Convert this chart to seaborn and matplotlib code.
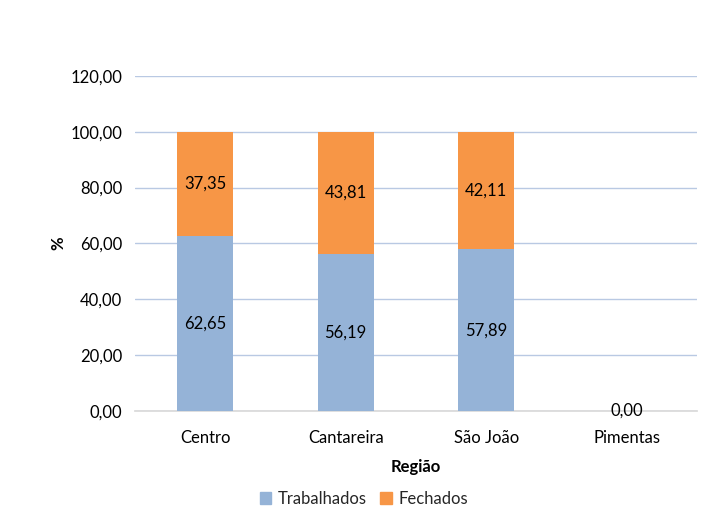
import matplotlib
matplotlib.use('Agg')
import matplotlib.pyplot as plt
import seaborn as sns
import pandas as pd
from matplotlib.patches import Patch

regioes = ['Centro', 'Cantareira', 'São João', 'Pimentas']
trabalhados = [62.65, 56.19, 57.89, 0.0]
fechados = [37.35, 43.81, 42.11, 0.0]
y_ticks = [0, 20, 40, 60, 80, 100, 120]

cor_trab = '#95B3D7'
cor_fech = '#F79646'

sns.set_theme(style='white')
plt.rcParams['font.family'] = ['Lato', 'DejaVu Sans']
fs = 12

df = pd.DataFrame({'Região': regioes, 'Trabalhados': trabalhados, 'Fechados': fechados})
df['Total'] = df['Trabalhados'] + df['Fechados']

fig = plt.figure(figsize=(7.28, 5.14), dpi=100)
ax = fig.add_axes([0.1854, 0.2004, 0.772, 0.652])

# total bar in orange, blue drawn over it
sns.barplot(data=df, x='Região', y='Total', color=cor_fech, width=0.4, saturation=1,
            linewidth=0, ax=ax, zorder=2)
sns.barplot(data=df, x='Região', y='Trabalhados', color=cor_trab, width=0.4, saturation=1,
            linewidth=0, ax=ax, zorder=3)

for i, (t, f) in enumerate(zip(trabalhados, fechados)):
    if t + f == 0:
        ax.text(i, 0.3, '0,00', ha='center', va='center', fontsize=fs, color='black', zorder=4)
        continue
    ax.text(i, t / 2, f'{t:.2f}'.replace('.', ','), ha='center', va='center', fontsize=fs, color='black', zorder=4)
    ax.text(i, t + f / 2, f'{f:.2f}'.replace('.', ','), ha='center', va='center', fontsize=fs, color='black', zorder=4)

ax.set_ylim(0, 120)
ax.set_xlim(-0.5, 3.5)
ax.set_yticks(y_ticks)
ax.set_yticklabels([f'{v:.2f}'.replace('.', ',') for v in y_ticks], fontsize=fs)
ax.tick_params(axis='x', labelsize=fs, length=0, pad=14, colors='black')
ax.tick_params(axis='y', length=0, pad=9, colors='black')
ax.yaxis.grid(True, color='#B9C9E3', linewidth=1)
ax.set_axisbelow(True)
for s in ['top', 'right', 'left']:
    ax.spines[s].set_visible(False)
ax.spines['bottom'].set_color('#D9D9D9')
ax.spines['bottom'].set_zorder(1)

ax.set_xlabel('Região', fontsize=fs, fontweight='bold', labelpad=9, color='black')
ax.set_ylabel('%', fontsize=fs, fontweight='bold', labelpad=3, color='black')

handles = [Patch(color=cor_trab, label='Trabalhados'), Patch(color=cor_fech, label='Fechados')]
fig.legend(handles=handles, loc='center', bbox_to_anchor=(0.5, 0.03), ncol=2, frameon=False,
           fontsize=fs, handlelength=0.7, handleheight=0.7, handletextpad=0.4, columnspacing=0.8)

fig.savefig('out.png', dpi=100)
